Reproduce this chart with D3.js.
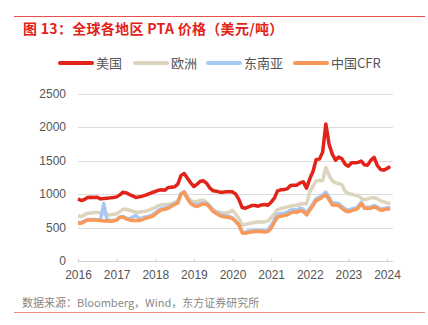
<!DOCTYPE html>
<html>
<head>
<meta charset="utf-8">
<script src="https://cdn.jsdelivr.net/npm/d3@7"></script>
<style>
  html, body { margin: 0; padding: 0; background: #fff; }
  svg { display: block; font-family: "Noto Sans CJK SC", "Liberation Sans", sans-serif; }
</style>
</head>
<body>
<svg id="chart" width="428" height="325"></svg>
<script>
// monthly prices, Jan 2016 .. Feb 2024 (USD/t)
var seriesNames = ["美国", "欧洲", "东南亚", "中国CFR"];
var seriesColors = ["#e2231a", "#ddd4bd", "#a9c9f5", "#f8995a"];
var yTicks = [0, 500, 1000, 1500, 2000, 2500];
var xTickYears = [2016, 2017, 2018, 2019, 2020, 2021, 2022, 2023, 2024];

var usa = [930, 905, 920, 950, 955, 950, 955, 930, 935, 940, 945, 950,
  960, 990, 1030, 1020, 995, 975, 950, 960, 970, 985, 1005, 1025,
  1040, 1060, 1065, 1060, 1100, 1105, 1110, 1150, 1280, 1310, 1240, 1170,
  1115, 1150, 1195, 1200, 1160, 1090, 1050, 1045, 1030, 1030, 1035, 1035,
  1035, 1000, 920, 800, 790, 810, 830, 830, 820, 840, 845, 835,
  880, 940, 1050, 1065, 1070, 1080, 1130, 1135, 1135, 1170, 1185, 1090,
  1230, 1340, 1520, 1525, 1630, 2050, 1750, 1600, 1510, 1555, 1530, 1450,
  1420, 1470, 1470, 1475, 1495, 1440, 1435, 1510, 1550, 1430, 1370, 1360,
  1385, 1415];

var europe = [680, 665, 690, 715, 720, 725, 725, 720, 710, 695, 690, 700,
  705, 740, 775, 775, 760, 745, 730, 730, 740, 745, 760, 780,
  800, 830, 845, 845, 845, 860, 875, 900, 1000, 1040, 960, 910,
  880, 895, 905, 905, 880, 820, 770, 740, 730, 720, 720, 730,
  760, 700, 640, 540, 545, 560, 570, 580, 585, 585, 585, 600,
  650, 710, 770, 785, 795, 810, 820, 830, 835, 850, 860, 855,
  1030, 1120, 1200, 1210, 1200, 1400, 1280, 1200, 1170, 1160, 1140, 1040,
  1010, 1000, 985, 980, 940, 915, 930, 945, 950, 930, 900, 885,
  870, 860];

var seAsia = [575, 575, 600, 620, 620, 620, 615, 620, 860, 620, 605, 605,
  620, 660, 665, 640, 630, 660, 680, 640, 645, 660, 670, 690,
  720, 760, 785, 795, 810, 835, 860, 885, 1010, 1040, 945, 875,
  845, 835, 855, 870, 860, 815, 755, 725, 700, 685, 675, 665,
  650, 600, 550, 435, 430, 450, 455, 460, 465, 460, 455, 470,
  530, 620, 700, 710, 715, 730, 760, 770, 765, 790, 775, 720,
  790, 860, 935, 955, 990, 1030, 960, 870, 870, 860, 820, 780,
  760, 780, 790, 815, 880, 810, 805, 810, 830, 810, 780, 785,
  800, 795];

var chinaCfr = [565, 565, 590, 615, 615, 615, 610, 605, 600, 598, 595, 598,
  612, 655, 660, 630, 615, 605, 605, 605, 620, 640, 655, 665,
  700, 740, 765, 775, 790, 820, 845, 870, 1000, 1030, 930, 860,
  830, 815, 840, 855, 845, 800, 740, 710, 680, 665, 660, 650,
  635, 590, 540, 420, 415, 430, 435, 440, 445, 440, 435, 440,
  490, 580, 660, 670, 680, 690, 720, 735, 725, 755, 740, 690,
  760, 830, 905, 925, 960, 990, 920, 840, 840, 830, 790, 750,
  735, 755, 765, 790, 860, 790, 785, 790, 810, 790, 760, 765,
  780, 780];

var allSeries = [usa, europe, seAsia, chinaCfr];

var svg = d3.select("#chart");
var margin = { left: 78, right: 35, top: 94, bottom: 64 };
var W = 428, H = 325;

var x = d3.scaleLinear()
  .domain([2016, 2024])
  .range([margin.left, 387]);
var y = d3.scaleLinear()
  .domain([0, 2500])
  .range([H - margin.bottom, margin.top]);

function monthX(i) { return x(2016 + i / 12); }

// header and footer rules
svg.append("line")
  .attr("x1", 14).attr("x2", 425).attr("y1", 16.5).attr("y2", 16.5)
  .attr("stroke", "#e8514b").attr("stroke-width", 1);
svg.append("line")
  .attr("x1", 14).attr("x2", 425).attr("y1", 312.5).attr("y2", 312.5)
  .attr("stroke", "#f08a84").attr("stroke-width", 1);

svg.append("text")
  .attr("x", 23).attr("y", 34)
  .attr("fill", "#e2231a")
  .attr("font-size", "14px")
  .attr("font-weight", "bold")
  .attr("letter-spacing", "0.3px")
  .text("图 13：全球各地区 PTA 价格（美元/吨）");

svg.append("text")
  .attr("x", 22).attr("y", 307)
  .attr("fill", "#888")
  .attr("font-size", "11px")
  .text("数据来源：Bloomberg，Wind，东方证券研究所");

// gridlines
svg.append("g")
  .selectAll("line")
  .data(yTicks.slice(1))
  .enter().append("line")
  .attr("x1", margin.left).attr("x2", 393)
  .attr("y1", function(d) { return Math.round(y(d)) + 0.5; })
  .attr("y2", function(d) { return Math.round(y(d)) + 0.5; })
  .attr("stroke", "#dcdcdc").attr("stroke-width", 1);

// y axis labels
svg.append("g")
  .selectAll("text")
  .data(yTicks)
  .enter().append("text")
  .attr("x", 66)
  .attr("y", function(d) { return y(d) + 4; })
  .attr("text-anchor", "end")
  .attr("fill", "#555")
  .attr("font-size", "12px")
  .attr("font-family", "Liberation Sans, sans-serif")
  .text(function(d) { return d; });

// x axis, small ticks rising from the baseline
var xAxis = d3.axisBottom(x)
  .tickValues(xTickYears)
  .tickFormat(d3.format("d"))
  .tickSize(4)
  .tickSizeOuter(0);
var gx = svg.append("g")
  .attr("transform", "translate(0," + (Math.round(y(0)) + 0.5) + ")")
  .call(xAxis);
gx.select(".domain").attr("stroke", "#cfcfcf").attr("d", "M" + margin.left + ",0H393");
gx.selectAll(".tick line").attr("stroke", "#cfcfcf").attr("y1", -3).attr("y2", 0);
gx.selectAll(".tick text")
  .attr("fill", "#555")
  .attr("font-size", "12px")
  .attr("font-family", "Liberation Sans, sans-serif")
  .attr("dy", "0.9em");

// price lines
var line = d3.line()
  .x(function(d, i) { return monthX(i); })
  .y(function(d) { return y(d); })
  .curve(d3.curveLinear);

svg.append("g")
  .selectAll("path")
  .data(allSeries)
  .enter().append("path")
  .attr("d", line)
  .attr("fill", "none")
  .attr("stroke", function(d, i) { return seriesColors[i]; })
  .attr("stroke-width", 3.5)
  .attr("stroke-linejoin", "round");

// legend
var legendX = [60, 135, 208, 295];
var legend = svg.append("g")
  .selectAll("g")
  .data(seriesNames)
  .enter().append("g")
  .attr("transform", function(d, i) { return "translate(" + legendX[i] + ",63)"; });
legend.append("line")
  .attr("x1", 0).attr("x2", 32)
  .attr("stroke", function(d, i) { return seriesColors[i]; })
  .attr("stroke-width", 4)
  .attr("stroke-linecap", "round");
legend.append("text")
  .attr("x", 36).attr("y", 5)
  .attr("fill", "#555")
  .attr("font-size", "13px")
  .text(function(d) { return d; });
</script>
</body>
</html>
